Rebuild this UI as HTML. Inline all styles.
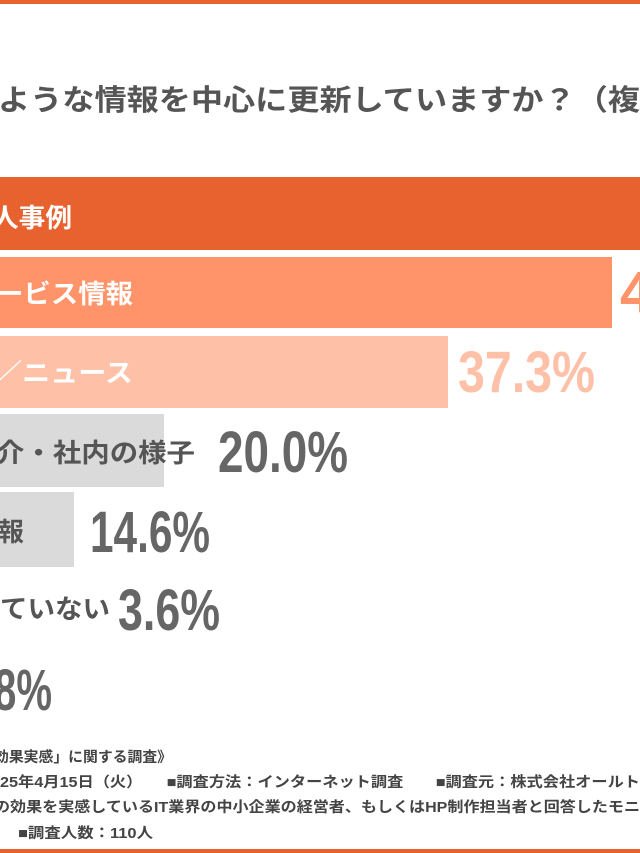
<!DOCTYPE html>
<html><head><meta charset="utf-8"><style>
html,body{margin:0;padding:0;background:#fff;width:640px;height:853px;overflow:hidden}
svg{display:block}
text{font-family:"Liberation Sans","Noto Sans CJK JP",sans-serif;font-weight:bold}
.n{font-family:"Liberation Sans Narrow","Liberation Sans",sans-serif;font-weight:bold}
.f{font-size:14.5px;fill:#444}
</style></head><body>
<svg width="640" height="853" viewBox="0 0 640 853" xmlns="http://www.w3.org/2000/svg">
<rect x="0" y="0" width="640" height="4" fill="#E8622F"/>
<rect x="0" y="849" width="640" height="4" fill="#E8622F"/>
<text x="-2" y="110" font-size="29" fill="#555" textLength="642" lengthAdjust="spacingAndGlyphs">ような情報を中心に更新していますか？（複</text>

<rect x="0" y="177" width="640" height="73" fill="#E8622F"/>
<text x="-8" y="227" font-size="26" fill="#fff" textLength="80" lengthAdjust="spacingAndGlyphs">人事例</text>

<rect x="0" y="257" width="612" height="71" fill="#FF9369"/>
<text x="-4" y="303" font-size="26" fill="#fff" textLength="137" lengthAdjust="spacingAndGlyphs">ービス情報</text>
<text class="n" x="620" y="312" font-size="58" fill="#FF9369">4</text>

<rect x="0" y="336" width="448" height="72" fill="#FFC0A8"/>
<text x="-6" y="382" font-size="26" fill="#fff" textLength="139" lengthAdjust="spacingAndGlyphs">／ニュース</text>
<text class="n" x="458" y="392" font-size="58" fill="#FFC0A8" textLength="137" lengthAdjust="spacingAndGlyphs">37.3%</text>

<rect x="0" y="414" width="164" height="73" fill="#DADADA"/>
<text x="-4" y="462" font-size="26" fill="#555" textLength="199" lengthAdjust="spacingAndGlyphs">介・社内の様子</text>
<text class="n" x="218" y="472" font-size="58" fill="#666" textLength="130" lengthAdjust="spacingAndGlyphs">20.0%</text>

<rect x="0" y="492" width="74" height="75" fill="#DADADA"/>
<text x="-2" y="541" font-size="26" fill="#555">報</text>
<text class="n" x="90" y="552" font-size="58" fill="#666" textLength="120" lengthAdjust="spacingAndGlyphs">14.6%</text>

<text x="0" y="618" font-size="26" fill="#555" textLength="110" lengthAdjust="spacingAndGlyphs">ていない</text>
<text class="n" x="118" y="630" font-size="58" fill="#666" textLength="102" lengthAdjust="spacingAndGlyphs">3.6%</text>

<text class="n" x="-6" y="710" font-size="58" fill="#666" textLength="58" lengthAdjust="spacingAndGlyphs">8%</text>

<text class="f" x="-6" y="762" textLength="178" lengthAdjust="spacingAndGlyphs">効果実感」に関する調査》</text>
<text class="f" x="0" y="787" textLength="640" lengthAdjust="spacingAndGlyphs">25年4月15日（火）　　■調査方法：インターネット調査　　■調査元：株式会社オールト</text>
<text class="f" x="-6" y="812" textLength="646" lengthAdjust="spacingAndGlyphs">の効果を実感しているIT業界の中小企業の経営者、もしくはHP制作担当者と回答したモニ</text>
<text class="f" x="18" y="838" textLength="135" lengthAdjust="spacingAndGlyphs">■調査人数：110人</text>
</svg>
</body></html>
